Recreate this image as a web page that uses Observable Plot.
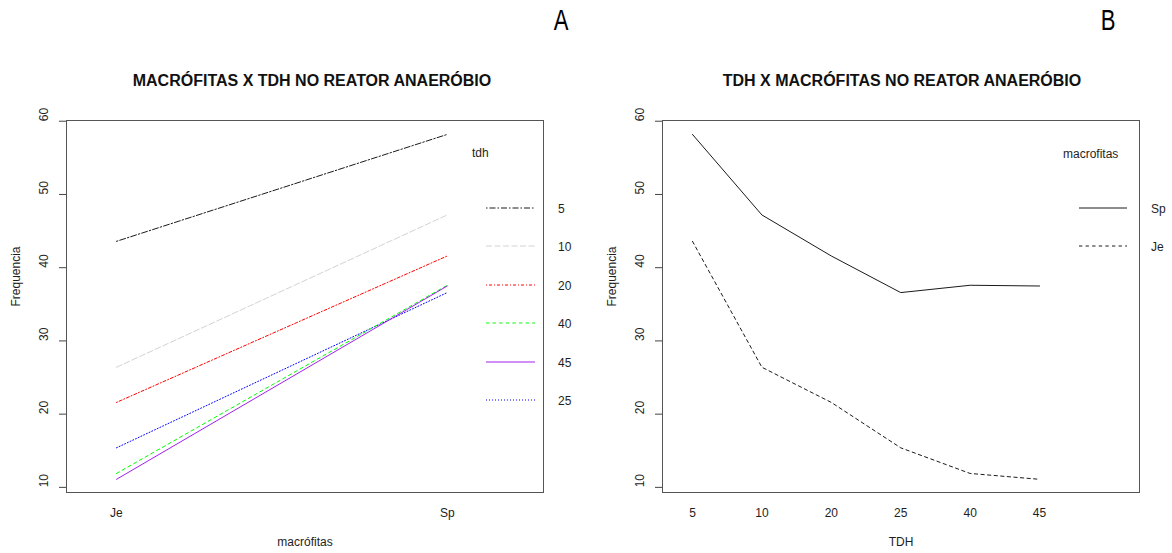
<!DOCTYPE html>
<html><head><meta charset="utf-8">
<script src="https://cdn.jsdelivr.net/npm/d3@7"></script>
<script src="https://cdn.jsdelivr.net/npm/@observablehq/plot@0.6"></script>
<style>
body{margin:0;background:#fff;font-family:"Liberation Sans",Arial,sans-serif;}
#wrap{position:relative;width:1172px;height:553px;overflow:hidden;background:#fff;}
#wrap > svg, #wrap > figure{position:absolute;top:0;margin:0;}
</style></head><body><div id="wrap"></div>
<script>
// ---- data ----
const macrofitas = ["Je", "Sp"];
const tdhLevels = ["5", "10", "20", "25", "40", "45"];
const jeValues = [43.6, 26.4, 21.6, 15.4, 11.9, 11.1];
const spValues = [58.2, 47.2, 41.6, 36.6, 37.6, 37.5];
const tdhColors = ["#1a1a1a", "#d3d3d3", "#ff0000", "#0000ff", "#00ff00", "#a020f0"];
const tdhDash = ["1.5,2,6,2", "6,2.5", "1,2,3,2", "1,2", "3.3,3.3", null];
const macroDash = ["3.3,3.3", null];
const legendOrderA = ["5", "10", "20", "40", "45", "25"];
const legendOrderB = ["Sp", "Je"];
const yTicks = [10, 20, 30, 40, 50, 60];
const titleA = "MACRÓFITAS X TDH NO REATOR ANAERÓBIO";
const titleB = "TDH X MACRÓFITAS NO REATOR ANAERÓBIO";

const FONT = "Liberation Sans, Arial, sans-serif";
const TXT = "#1e1e1e";

// rows
const rowsA = [];
tdhLevels.forEach((t, i) => {
  rowsA.push({tdh: t, macro: "Je", xi: 1, y: jeValues[i]});
  rowsA.push({tdh: t, macro: "Sp", xi: 2, y: spValues[i]});
});
const rowsB = [];
tdhLevels.forEach((t, i) => {
  rowsB.push({macro: "Je", xi: i + 1, y: jeValues[i]});
  rowsB.push({macro: "Sp", xi: i + 1, y: spValues[i]});
});

function commonMarks(xlabel) {
  return [
    Plot.frame({stroke: "#555"}),
    Plot.axisY({ticks: yTicks, tickSize: 7, tickFormat: () => "", label: null, stroke: "#444"}),
    Plot.text(yTicks, {y: d => d, frameAnchor: "left", dx: -22, rotate: -90, text: d => String(d), fill: TXT}),
    Plot.text([xlabel], {frameAnchor: "bottom", dy: 53, text: d => d, fill: TXT}),
    Plot.text(["Frequencia"], {frameAnchor: "left", dx: -50, rotate: -90, text: d => d, fill: TXT})
  ];
}

const plotA = Plot.plot({
  width: 586, height: 553,
  marginLeft: 66, marginRight: 43, marginTop: 120, marginBottom: 61,
  x: {type: "linear", domain: [0.849, 2.291]},
  y: {domain: [9.3, 60.1]},
  style: {fontFamily: FONT, fontSize: "12px", color: TXT, background: "transparent"},
  marks: [
    ...tdhLevels.map((t, i) => Plot.line(rowsA.filter(d => d.tdh === t), {
      x: "xi", y: "y", stroke: tdhColors[i], strokeWidth: 1,
      strokeDasharray: tdhDash[i] || undefined
    })),
    ...commonMarks("macrófitas"),
    Plot.axisX({ticks: [1, 2], tickSize: 0, tickPadding: 16, tickFormat: i => macrofitas[i - 1], label: null})
  ]
});

const plotB = Plot.plot({
  width: 586, height: 553,
  marginLeft: 76, marginRight: 33, marginTop: 120, marginBottom: 61,
  x: {type: "linear", domain: [0.568, 7.44]},
  y: {domain: [9.3, 60.1]},
  style: {fontFamily: FONT, fontSize: "12px", color: TXT, background: "transparent"},
  marks: [
    ...macrofitas.map((m, i) => Plot.line(rowsB.filter(d => d.macro === m), {
      x: "xi", y: "y", stroke: "#1a1a1a", strokeWidth: 1,
      strokeDasharray: macroDash[i] || undefined
    })),
    ...commonMarks("TDH"),
    Plot.axisX({ticks: d3.range(1, tdhLevels.length + 1), tickSize: 0, tickPadding: 16, tickFormat: i => tdhLevels[i - 1], label: null})
  ]
});

const wrap = document.getElementById("wrap");
plotA.style.left = "0px";
plotB.style.left = "586px";
wrap.appendChild(plotA);
wrap.appendChild(plotB);

// ---- overlay: titles, panel letters, legends ----
const ov = d3.select(wrap).append("svg")
  .attr("width", 1172).attr("height", 553)
  .style("position", "absolute").style("left", "0px").style("top", "0px")
  .style("pointer-events", "none")
  .attr("font-family", FONT);

ov.append("text").attr("x", 312).attr("y", 80).attr("text-anchor", "middle").attr("dominant-baseline", "central")
  .attr("font-size", 16).attr("font-weight", "bold").attr("fill", "#111").text(titleA);
ov.append("text").attr("x", 902).attr("y", 80).attr("text-anchor", "middle").attr("dominant-baseline", "central")
  .attr("font-size", 16).attr("font-weight", "bold").attr("fill", "#111").text(titleB);
ov.append("text").attr("text-anchor", "middle").attr("dominant-baseline", "central")
  .attr("transform", "translate(561,20) scale(0.85,1.12)")
  .attr("font-size", 26).attr("fill", "#000").text("A");
ov.append("text").attr("text-anchor", "middle").attr("dominant-baseline", "central")
  .attr("transform", "translate(1108,20) scale(0.85,1.12)")
  .attr("font-size", 26).attr("fill", "#000").text("B");

// legend A
ov.append("text").attr("x", 472).attr("y", 153).attr("dominant-baseline", "central")
  .attr("font-size", 12).attr("fill", TXT).text("tdh");
legendOrderA.forEach((t, k) => {
  const i = tdhLevels.indexOf(t);
  const y = Math.round(207.5 + k * 38.5);
  ov.append("line").attr("x1", 486).attr("x2", 535).attr("y1", y).attr("y2", y)
    .attr("stroke", tdhColors[i]).attr("stroke-width", 1)
    .attr("stroke-dasharray", tdhDash[i]);
  ov.append("text").attr("x", 558).attr("y", y + 1).attr("dominant-baseline", "central")
    .attr("font-size", 12).attr("fill", TXT).text(t);
});

// legend B
ov.append("text").attr("x", 1063).attr("y", 154).attr("dominant-baseline", "central")
  .attr("font-size", 12).attr("fill", TXT).text("macrofitas");
legendOrderB.forEach((m, k) => {
  const i = macrofitas.indexOf(m);
  const y = Math.round(207.5 + k * 38.5);
  ov.append("line").attr("x1", 1079).attr("x2", 1127).attr("y1", y).attr("y2", y)
    .attr("stroke", "#1a1a1a").attr("stroke-width", 1)
    .attr("stroke-dasharray", macroDash[i]);
  ov.append("text").attr("x", 1151).attr("y", y + 1).attr("dominant-baseline", "central")
    .attr("font-size", 12).attr("fill", TXT).text(m);
});
</script></body></html>
